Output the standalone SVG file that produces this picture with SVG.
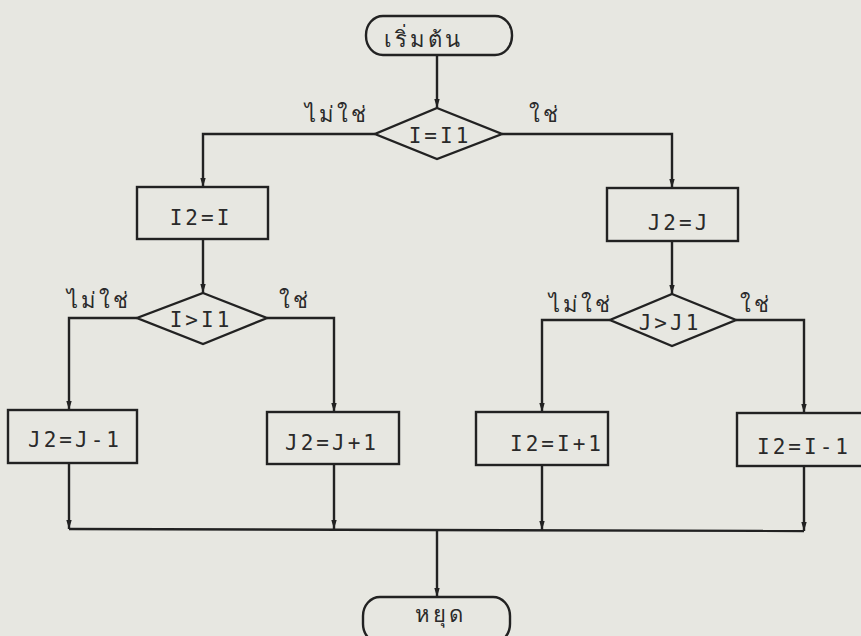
<svg xmlns="http://www.w3.org/2000/svg" width="861" height="636" viewBox="0 0 861 636">
  <defs>
    <marker id="arrow" markerUnits="userSpaceOnUse" markerWidth="10" markerHeight="8" refX="9" refY="3" orient="auto">
      <path d="M0,0.3 L9,3 L0,5.7 z" fill="#222"/>
    </marker>
    <style>
      .shape { fill: none; stroke: #222; stroke-width: 2.4; }
      .conn { fill: none; stroke: #222; stroke-width: 2.4; }
      .conn.a { marker-end: url(#arrow); }
      .lbl { font-family: "DejaVu Sans Mono", "Liberation Mono", monospace; font-size: 21px; letter-spacing: 3px; fill: #2a2a2a; text-anchor: middle; }
      .th { font-family: "Noto Sans", "DejaVu Sans", sans-serif; font-size: 22px; letter-spacing: 3px; fill: #2a2a2a; }
    </style>
  </defs>

  <rect x="0" y="0" width="861" height="636" fill="#e7e7e1"/>

  <!-- connectors and branch labels -->
  <g id="connectors">
    <path class="conn a" d="M437,55 V108"/>
    <path class="conn a" d="M375,134 H203 V187"/>
    <path class="conn a" d="M502,134 H672 V188"/>
    <path class="conn a" d="M203,239 V293"/>
    <path class="conn a" d="M137,318 H69 V410"/>
    <path class="conn a" d="M267,318 H334 V412"/>
    <path class="conn a" d="M672,241 V294"/>
    <path class="conn a" d="M610,320 H542 V412"/>
    <path class="conn a" d="M736,320 H804 V413"/>
    <path class="conn a" d="M69,463 V529"/>
    <path class="conn a" d="M334,464 V529"/>
    <path class="conn a" d="M542,465 V530"/>
    <path class="conn a" d="M804,466 V531"/>
    <path class="conn" d="M69,529 L804,531"/>
    <path class="conn a" d="M437,530 V597"/>
    <text class="th" x="305" y="122">ไม่ใช่</text>
    <text class="th" x="529" y="122">ใช่</text>
    <text class="th" x="67" y="308">ไม่ใช่</text>
    <text class="th" x="279" y="308">ใช่</text>
    <text class="th" x="549" y="312">ไม่ใช่</text>
    <text class="th" x="740" y="312">ใช่</text>
  </g>

  <!-- start -->
  <g id="start">
    <rect class="shape" x="366" y="16" width="146" height="39" rx="17" ry="19"/>
    <text class="th" x="423" y="47" text-anchor="middle">เริ่มต้น</text>
  </g>

  <!-- decision I = I1 -->
  <g id="dec-i">
    <polygon class="shape" points="437,108 502,134 437,159 375,134"/>
    <text class="lbl" x="440" y="143">I=I1</text>
  </g>

  <g id="set-i2">
    <rect class="shape" x="137" y="187" width="131" height="52"/>
    <text class="lbl" x="201" y="225">I2=I</text>
  </g>

  <g id="set-j2">
    <rect class="shape" x="607" y="188" width="131" height="53"/>
    <text class="lbl" x="679" y="230">J2=J</text>
  </g>

  <!-- decision I > I1 -->
  <g id="dec-i-gt">
    <polygon class="shape" points="203,293 267,318 203,344 137,318"/>
    <text class="lbl" x="201" y="327">I&gt;I1</text>
  </g>

  <!-- decision J > J1 -->
  <g id="dec-j-gt">
    <polygon class="shape" points="672,294 736,320 672,346 610,320"/>
    <text class="lbl" x="670" y="330">J&gt;J1</text>
  </g>

  <g id="j2-minus">
    <rect class="shape" x="8" y="410" width="129" height="53"/>
    <text class="lbl" x="75" y="447">J2=J-1</text>
  </g>

  <g id="j2-plus">
    <rect class="shape" x="267" y="412" width="132" height="52"/>
    <text class="lbl" x="332" y="450">J2=J+1</text>
  </g>

  <g id="i2-plus">
    <rect class="shape" x="476" y="412" width="132" height="53"/>
    <text class="lbl" x="557" y="451">I2=I+1</text>
  </g>

  <g id="i2-minus">
    <rect class="shape" x="737" y="413" width="131" height="53"/>
    <text class="lbl" x="804" y="454">I2=I-1</text>
  </g>

  <!-- stop -->
  <g id="stop">
    <rect class="shape" x="363" y="597" width="147" height="46" rx="17" ry="19"/>
    <text class="th" x="440" y="622" text-anchor="middle">หยุด</text>
  </g>
</svg>
